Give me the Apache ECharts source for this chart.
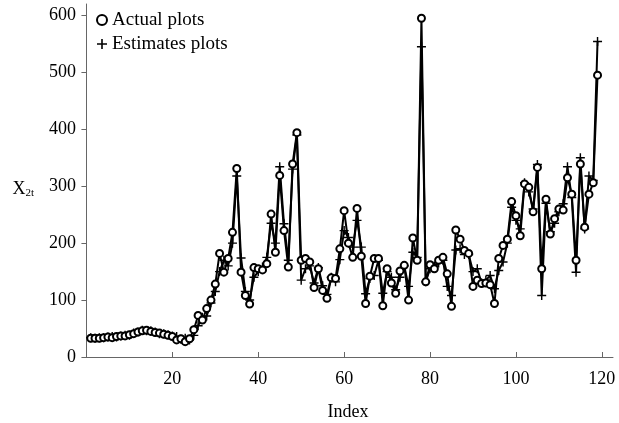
<!DOCTYPE html>
<html>
<head>
<meta charset="utf-8">
<script src="https://cdn.jsdelivr.net/npm/echarts@6/dist/echarts.min.js"></script>
<style>
  html, body { margin: 0; padding: 0; background: #fff; }
  #chart { width: 619px; height: 423px; }
</style>
</head>
<body>
<div id="chart"></div>
<script>
// values, index 1..119
var actual = [33, 33, 33, 34, 35, 34, 36, 37, 37, 39, 41, 44, 46, 47, 45, 43, 42, 40, 38, 36,
    30, 32, 27, 32, 48, 73, 65, 85, 100, 128, 182, 149, 173, 219, 331, 149, 108, 93, 157, 155,
    153, 164, 251, 184, 319, 222, 158, 339, 394, 170, 173, 167, 122, 155, 117, 103, 139, 138, 190, 257,
    200, 175, 261, 177, 94, 142, 173, 173, 90, 155, 130, 112, 151, 161, 100, 209, 170, 595, 132, 162,
    155, 170, 175, 146, 89, 223, 207, 187, 182, 124, 135, 129, 130, 127, 94, 173, 196, 207, 273, 248,
    213, 304, 298, 255, 333, 155, 277, 216, 243, 260, 258, 315, 286, 170, 339, 228, 286, 306, 495];
var estimates = [34, 33, 34, 34, 35, 36, 35, 37, 38, 38, 42, 44, 47, 46, 46, 44, 41, 41, 39, 37,
    36, 31, 33, 30, 38, 55, 70, 72, 95, 115, 150, 170, 160, 200, 318, 174, 115, 100, 140, 150,
    158, 175, 235, 200, 334, 234, 170, 330, 390, 135, 155, 160, 130, 157, 125, 110, 140, 132, 171, 222,
    210, 193, 240, 193, 111, 138, 143, 170, 112, 150, 140, 118, 140, 160, 124, 184, 175, 545, 132, 155,
    160, 165, 170, 124, 108, 188, 190, 180, 180, 150, 155, 130, 135, 143, 120, 152, 167, 200, 263, 240,
    225, 306, 290, 260, 338, 108, 270, 220, 235, 255, 269, 334, 280, 149, 350, 225, 318, 310, 554];
var xTicks = [20, 40, 60, 80, 100, 120];
var yTicks = [0, 100, 200, 300, 400, 500, 600];

var plusPath = 'path://M-0.8,-5L0.8,-5L0.8,-0.8L5,-0.8L5,0.8L0.8,0.8L0.8,5L-0.8,5L-0.8,0.8L-5,0.8L-5,-0.8L-0.8,-0.8Z';
var font = '"Liberation Serif", "Times New Roman", serif';

function pairs(vals) {
    var out = [];
    for (var i = 0; i < vals.length; i++) {
        out.push([i + 1, vals[i]]);
    }
    return out;
}

var chart = echarts.init(document.getElementById('chart'));
chart.setOption({
    animation: false,
    textStyle: { fontFamily: font },
    grid: { left: 83, right: 6, top: 4, bottom: 66, outerBoundsMode: 'none', containLabel: false },
    legend: {
        left: 91,
        top: 5,
        orient: 'vertical',
        itemWidth: 10,
        itemHeight: 10,
        itemGap: 4,
        textStyle: { fontFamily: font, fontSize: 19, color: '#000', lineHeight: 20 },
        data: [
            { name: 'Actual plots', icon: 'emptyCircle', itemStyle: { borderWidth: 2 } },
            { name: 'Estimates plots', icon: plusPath }
        ]
    },
    xAxis: {
        type: 'value',
        min: -0.8,
        max: 122.6,
        name: 'Index',
        nameLocation: 'middle',
        nameGap: 46,
        nameTextStyle: { fontFamily: font, fontSize: 18, color: '#000' },
        splitLine: { show: false },
        axisLine: { lineStyle: { color: '#666', width: 1 } },
        axisTick: { inside: true, length: 5, lineStyle: { color: '#666' }, customValues: xTicks },
        axisLabel: { customValues: xTicks, fontFamily: font, fontSize: 18, color: '#000', margin: 13 }
    },
    yAxis: {
        type: 'value',
        min: 0,
        max: 620,
        name: 'X{sub|2t}',
        nameLocation: 'middle',
        nameRotate: 0,
        nameGap: 49,
        nameTextStyle: {
            fontFamily: font, fontSize: 18, color: '#000', padding: [18, 0, 0, 0],
            rich: { sub: { fontFamily: font, fontSize: 11, verticalAlign: 'bottom', padding: [8, 0, 0, 0] } }
        },
        splitLine: { show: false },
        axisLine: { show: true, lineStyle: { color: '#666', width: 1 } },
        axisTick: { show: true, length: 5, lineStyle: { color: '#666' }, customValues: yTicks },
        axisLabel: { customValues: yTicks, fontFamily: font, fontSize: 18, color: '#000', margin: 7 }
    },
    series: [
        {
            name: 'Estimates plots',
            type: 'line',
            symbol: plusPath,
            symbolSize: 9,
            showAllSymbol: true,
            lineStyle: { color: '#000', width: 2 },
            itemStyle: { color: '#000' },
            data: pairs(estimates),
            z: 2
        },
        {
            name: 'Actual plots',
            type: 'line',
            symbol: 'emptyCircle',
            symbolSize: 7,
            showAllSymbol: true,
            lineStyle: { color: '#000', width: 2 },
            itemStyle: { color: '#000', borderColor: '#000', borderWidth: 2 },
            data: pairs(actual),
            z: 3
        }
    ]
});
</script>
</body>
</html>
